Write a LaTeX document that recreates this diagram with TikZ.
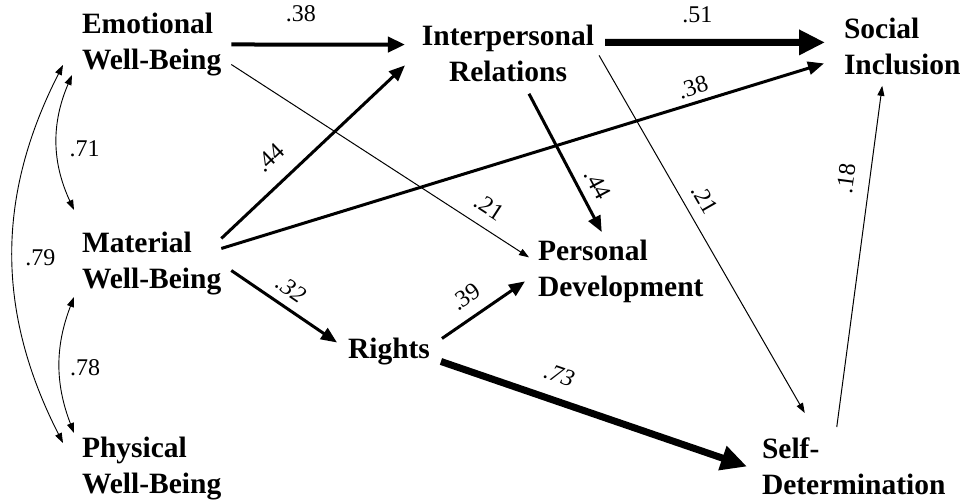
\documentclass[tikz,border=0pt]{standalone}
\usepackage{fontspec}
\setmainfont{Liberation Serif}
\usetikzlibrary{arrows.meta, positioning}

\begin{document}
\begin{tikzpicture}[x=1pt, y=1pt,
    var/.style={inner sep=0pt, outer sep=0pt, anchor=north west, align=left,
        font=\bfseries\fontsize{29.5}{36}\selectfont},
    coef/.style={inner sep=1pt, font=\fontsize{24}{28}\selectfont},
    coefi/.style={inner sep=1pt, font=\itshape\fontsize{24}{28}\selectfont},
    pthin/.style={line width=1pt, -{Triangle[length=10pt,width=7pt]}},
    pmid/.style={line width=3pt, -{Triangle[length=16pt,width=13pt]}},
    pwide/.style={line width=4pt, -{Triangle[length=17pt,width=15pt]}},
    pthick/.style={line width=7pt, -{Triangle[length=26pt,width=24pt]}},
    corr/.style={line width=0.9pt, {Triangle[length=10pt,width=7pt]}-{Triangle[length=10pt,width=7pt]}}]

    \useasboundingbox (0,0) rectangle (972,-500);

    \node[var] (emo) at (82,-13) {Emotional\\Well-Being};
    \node[var] (mat) at (82,-232) {Material\\Well-Being};
    \node[var] (phy) at (82,-437) {Physical\\Well-Being};
    \node[var, anchor=north, align=center] (ir) at (508,-25) {Interpersonal\\Relations};
    \node[var] (si) at (844,-18) {Social\\Inclusion};
    \node[var] (pd) at (538,-240) {Personal\\Development};
    \node[var] (rig) at (348,-338) {Rights};
    \node[var] (sd) at (762,-438) {Self-\\Determination};

    % correlations
    \path
    ([xshift=-10pt,yshift=1pt]emo.south west) edge[corr, bend right=24] node[coef, right=11pt, pos=0.55] {.71} ([xshift=-8pt,yshift=22pt]mat.north west)
    ([xshift=-8pt,yshift=-2pt]mat.south west) edge[corr, bend right=21] node[coef, right=9pt, pos=0.52] {.78} ([xshift=-8pt,yshift=4pt]phy.north west)
    ([xshift=-19pt,yshift=11pt]emo.south west) edge[corr, bend right=27] node[coef, right=11pt, pos=0.51] {.79} ([xshift=-19pt,yshift=-6pt]phy.north west);

    % paths
    \path
    ([xshift=10pt]emo.east) edge[pwide] node[coef, above=20pt, pos=0.4] {.38} ([xshift=-17pt,yshift=8.8pt]ir.west)
    ([xshift=11pt,yshift=11pt]ir.east) edge[pthick] node[coef, above=15pt, pos=0.42] {.51} ([xshift=-19pt,yshift=4pt]si.west)
    ([yshift=25pt]mat.east) edge[pmid] node[coef, sloped, above=15pt, pos=0.36] {.44} ([xshift=-17pt,yshift=-12pt]ir.west)
    ([yshift=15pt]mat.east) edge[pmid] node[coef, sloped, above=5pt, pos=0.79] {.38} ([xshift=-20pt,yshift=-17pt]si.west)
    ([xshift=10pt,yshift=-20pt]emo.east) edge[pthin] node[coef, sloped, above=11pt, pos=0.83] {.21} ([xshift=-9pt,yshift=14pt]pd.west)
    ([xshift=21pt,yshift=-12pt]ir.south) edge[pmid] node[coef, sloped, above=8pt, pos=0.72] {.44} ([xshift=-19pt,yshift=8pt]pd.north)
    ([xshift=5pt,yshift=-2pt]ir.east) edge[pthin] node[coef, sloped, above=10pt, pos=0.43] {.21} ([xshift=-49pt,yshift=25pt]sd.north)
    ([xshift=-17pt,yshift=11pt]sd.north) edge[pthin] node[coef, sloped, above=14pt, pos=0.72] {.18} ([xshift=-20pt,yshift=-11pt]si.south)
    ([xshift=10pt,yshift=-7pt]mat.east) edge[pmid] node[coefi, sloped, above=8pt, pos=0.47] {.32} ([xshift=-11pt,yshift=9pt]rig.west)
    ([xshift=12pt,yshift=13pt]rig.east) edge[pmid] node[coef, sloped, above=10pt, pos=0.43] {.39} ([xshift=-13pt,yshift=-10pt]pd.west)
    ([xshift=11pt,yshift=-10pt]rig.east) edge[pthick] node[coefi, sloped, above=13pt, pos=0.36] {.73} ([xshift=-15pt]sd.west);

\end{tikzpicture}
\end{document}
